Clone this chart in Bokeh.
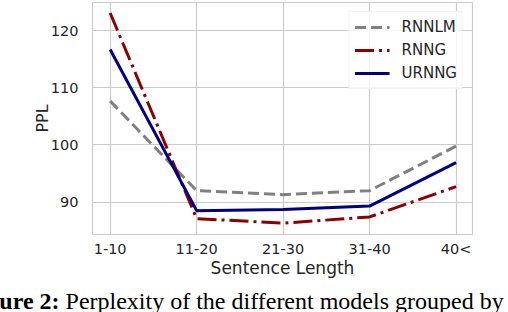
from bokeh.plotting import figure
from bokeh.models import Range1d, FixedTicker, Legend, LegendItem, Div
from bokeh.layouts import column
from bokeh.embed import file_html
from bokeh.resources import INLINE

# ---- data ----
categories = ["1-10", "11-20", "21-30", "31-40", "40<"]
rnnlm = [107.7, 92.0, 91.3, 92.0, 99.8]
rnng = [123.1, 87.1, 86.3, 87.4, 92.7]
urnng = [116.7, 88.5, 88.7, 89.3, 96.9]
y_ticks = [90, 100, 110, 120]
caption_bold = "Figure 2:"
caption_rest = "Perplexity of the different models grouped by"

x = list(range(len(categories)))

p = figure(width=508, height=280, output_backend="svg", toolbar_location=None,
           x_range=Range1d(-0.204, 4.19), y_range=Range1d(84.32, 124.94),
           min_border_left=92, min_border_right=36, min_border_top=2, min_border_bottom=42)

p.background_fill_color = "white"
p.border_fill_color = "white"
p.outline_line_color = "#cccccc"
p.outline_line_width = 1.2

r1 = p.line(x, rnnlm, line_color="#808080", line_width=3, line_dash="11 5")
r2 = p.line(x, rnng, line_color="#8b0000", line_width=3, line_dash="19 5 3 5")
r3 = p.line(x, urnng, line_color="#000080", line_width=3)

p.xaxis.ticker = FixedTicker(ticks=x)
p.xaxis.major_label_overrides = {i: c for i, c in zip(x, categories)}
p.yaxis.ticker = FixedTicker(ticks=y_ticks)

for ax in (p.xaxis, p.yaxis):
    ax.axis_line_color = None
    ax.major_tick_line_color = None
    ax.minor_tick_line_color = None
    ax.major_label_text_font = "DejaVu Sans"
    ax.major_label_text_font_size = "14.5px"
    ax.major_label_text_color = "#262626"
    ax.axis_label_text_font = "DejaVu Sans"
    ax.axis_label_text_font_style = "normal"
    ax.axis_label_text_color = "#262626"

p.xaxis.axis_label_text_font_size = "17px"
p.yaxis.axis_label_text_font_size = "16px"
p.xaxis.axis_label = "Sentence Length"
p.yaxis.axis_label = "PPL"
p.xaxis.major_label_standoff = 0
p.xaxis.axis_label_standoff = -2
p.yaxis.major_label_standoff = 8
p.yaxis.axis_label_standoff = -4

p.xgrid.grid_line_color = "#cccccc"
p.ygrid.grid_line_color = "#cccccc"
p.xgrid.grid_line_width = 1.2
p.ygrid.grid_line_width = 1.2

legend = Legend(items=[LegendItem(label="RNNLM", renderers=[r1]),
                       LegendItem(label="RNNG", renderers=[r2]),
                       LegendItem(label="URNNG", renderers=[r3])],
                location="top_right")
legend.margin = 9
legend.padding = 5
legend.spacing = 3
legend.glyph_width = 35
legend.glyph_height = 20
legend.label_height = 20
legend.label_standoff = 12
legend.label_text_font = "DejaVu Sans"
legend.label_text_font_size = "15px"
legend.label_text_color = "#262626"
legend.border_line_color = "#e8e8e8"
legend.background_fill_color = "white"
legend.background_fill_alpha = 0.8
p.add_layout(legend)

caption = Div(
    text=('<div style="margin-top:4px; margin-left:-39px; white-space:nowrap; '
          'font-family:\'Liberation Serif\'; font-size:24px; line-height:24px; color:black">'
          f'<b>{caption_bold}</b> {caption_rest}</div>'),
    width=508, height=32)

layout = column(p, caption, spacing=0)
open("out.html", "w").write(file_html(layout, INLINE))
